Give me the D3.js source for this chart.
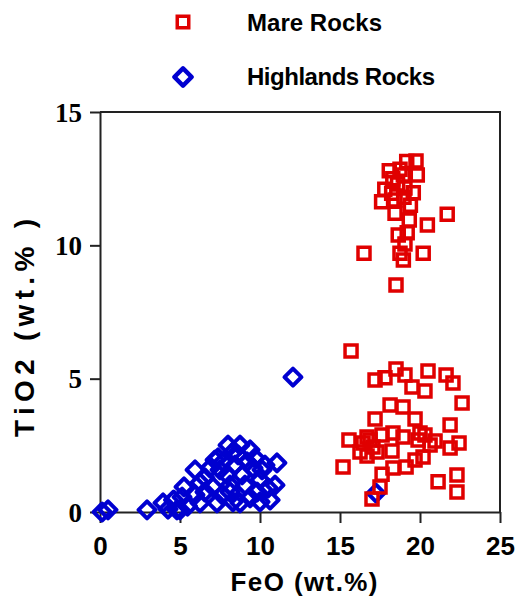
<!DOCTYPE html>
<html>
<head>
<meta charset="utf-8">
<script src="https://cdn.jsdelivr.net/npm/d3@7"></script>
<style>
  html, body { margin: 0; padding: 0; background: #fff; }
  svg { display: block; }
</style>
</head>
<body>
<svg id="chart" width="517" height="599"></svg>
<script>
// ---- Data ----
const seriesNames = ["Mare Rocks", "Highlands Rocks"];

const mareFeO = [
  19.75, 19.17, 19.83, 18.96, 18.08, 19.58, 18.23, 17.6, 18.44, 19.33,
  20.46, 21.7, 19.2, 18.64, 19.06, 20.2, 16.5, 18.75, 18.96, 18.5,
  18.6, 19.06, 18.44, 19.4, 18.75, 17.8, 18.3, 19.0,
  15.69, 17.19, 17.81, 18.5, 19.06, 19.5, 20.5, 20.31, 21.63, 22.06,
  22.63, 18.13, 18.94, 17.19, 19.69, 21.88, 15.56, 16.69, 17.63, 18.31,
  20.94, 22.44, 21.88, 18.25, 16.25, 16.69, 17.31, 20.19, 15.19, 18.31,
  19.13, 17.63, 21.13, 22.31, 22.31, 17.5, 17.0, 20.31, 20.0, 18.94,
  16.88, 16.44, 17.06, 19.69, 20.63, 19.88
];
const mareTiO2 = [
  13.16, 13.14, 12.64, 12.64, 12.8, 11.97, 11.95, 11.63, 11.2, 10.95,
  10.76, 11.17, 10.47, 10.39, 10.05, 9.7, 9.7, 9.7, 9.45, 8.51,
  12.3, 12.15, 11.7, 11.5, 12.85, 12.1, 12.5, 11.8,
  6.04, 4.95, 5.03, 5.36, 5.14, 4.69, 5.29, 4.54, 5.14, 4.84,
  4.09, 4.01, 3.94, 3.49, 3.49, 3.26, 2.70, 2.81, 2.89, 2.96,
  2.66, 2.59, 2.40, 2.29, 2.25, 2.10, 2.25, 2.06, 1.69, 1.65,
  1.69, 1.42, 1.13, 1.39, 0.75, 0.94, 0.49, 2.89, 2.96, 2.81,
  2.70, 2.59, 2.44, 1.95, 2.51, 2.70
];

const highFeO = [
  0.13, 0.5, 2.94, 3.94, 4.25, 4.81, 5.25, 5.13, 5.47, 9.38,
  8.75, 8.31, 11.06, 7.06, 8.13, 8.88, 10.0, 10.63, 8.75, 6.25,
  7.31, 6.88, 7.69, 9.56, 8.13, 9.81, 9.19, 7.94, 6.56, 8.31,
  10.0, 12.06, 10.5, 5.0, 7.5, 17.25, 7.38, 8.44, 5.94, 10.31,
  5.94, 7.19, 8.0, 8.63, 9.69, 10.13, 9.06, 7.63, 6.56, 9.38,
  10.94, 6.25, 4.6
];
const highTiO2 = [
  0.0, 0.08, 0.08, 0.34, 0.11, 0.08, 0.94, 0.56, 0.22, 2.33,
  2.51, 2.25, 1.84, 0.94, 1.01, 1.39, 1.2, 0.45, 0.34, 0.34,
  0.34, 1.65, 1.88, 1.65, 0.75, 0.75, 1.88, 1.39, 1.28, 0.38,
  0.38, 5.06, 0.9, 0.08, 1.58, 0.71, 2.03, 1.76, 0.64, 1.76,
  1.58, 1.95, 2.51, 2.14, 2.03, 1.58, 1.01, 0.64, 0.75, 0.53,
  1.01, 1.1, 0.45
];

const xTicks = [0, 5, 10, 15, 20, 25];
const yTicks = [0, 5, 10, 15];
const xTitle = "FeO (wt.%)";
const yTitle = "TiO2 (wt.% )";

// ---- Styles ----
const RED = "#e00000";
const BLUE = "#0000d0";
const AXIS = "#222";
const SANS = "'Liberation Sans', Arial, sans-serif";
const SERIF = "'Liberation Serif', 'Times New Roman', serif";

const svg = d3.select("#chart");
const margin = { left: 100, top: 112, right: 17, bottom: 87 };
const W = 517, H = 599;

const x = d3.scaleLinear().domain([0, 25]).range([margin.left, W - margin.right]);
const y = d3.scaleLinear().domain([0, 15]).range([H - margin.bottom, margin.top]);

// frame (top and right)
svg.append("path")
  .attr("d", `M${x(0)},${y(15)}H${x(25)}V${y(0)}`)
  .attr("fill", "none").attr("stroke", AXIS).attr("stroke-width", 2);

// x axis
const gx = svg.append("g")
  .attr("transform", `translate(0,${y(0)})`)
  .call(d3.axisBottom(x).tickValues(xTicks).tickSize(11).tickSizeOuter(0).tickPadding(13.5));
gx.select(".domain").attr("stroke", AXIS).attr("stroke-width", 2);
gx.selectAll(".tick line").attr("stroke", AXIS).attr("stroke-width", 2);
gx.selectAll(".tick text")
  .attr("fill", "#000")
  .style("font-family", SANS).style("font-weight", "bold").style("font-size", "26px");

// y axis
const gy = svg.append("g")
  .attr("transform", `translate(${x(0)},0)`)
  .call(d3.axisLeft(y).tickValues(yTicks).tickSize(10).tickSizeOuter(0).tickPadding(8));
gy.select(".domain").attr("stroke", AXIS).attr("stroke-width", 2);
gy.selectAll(".tick line").attr("stroke", AXIS).attr("stroke-width", 2);
gy.selectAll(".tick text")
  .attr("fill", "#000").attr("dy", "0.34em")
  .style("font-family", SERIF).style("font-weight", "bold").style("font-size", "27px");

// axis titles
svg.append("text")
  .attr("x", 304).attr("y", 591)
  .attr("text-anchor", "middle")
  .attr("textLength", 147).attr("lengthAdjust", "spacing")
  .style("font-family", SANS).style("font-weight", "bold").style("font-size", "26px")
  .text(xTitle);

svg.append("text")
  .attr("transform", "translate(34,328) rotate(-90)")
  .attr("text-anchor", "middle")
  .attr("textLength", 218).attr("lengthAdjust", "spacing")
  .style("font-family", SANS).style("font-weight", "bold").style("font-size", "28px")
  .text(yTitle);

// symbols
const squareSym = d3.symbol().type(d3.symbolSquare).size(144);
const diamondSym = d3.symbol().type(d3.symbolSquare).size(144);

const highData = highFeO.map((v, i) => [v, highTiO2[i]]);
const mareData = mareFeO.map((v, i) => [v, mareTiO2[i]]);

svg.append("g").selectAll("path")
  .data(highData).join("path")
  .attr("d", diamondSym)
  .attr("transform", d => `translate(${x(d[0])},${y(d[1])}) rotate(45)`)
  .attr("fill", "none")
  .attr("stroke", BLUE).attr("stroke-width", 4).attr("stroke-linejoin", "round");

svg.append("g").selectAll("path")
  .data(mareData).join("path")
  .attr("d", squareSym)
  .attr("transform", d => `translate(${x(d[0])},${y(d[1])})`)
  .attr("fill", "none")
  .attr("stroke", RED).attr("stroke-width", 3.5);

// legend
const legend = svg.append("g");
legend.append("path")
  .attr("d", d3.symbol().type(d3.symbolSquare).size(132)())
  .attr("transform", "translate(183,22)")
  .attr("fill", "none").attr("stroke", RED).attr("stroke-width", 3.5);
legend.append("path")
  .attr("d", d3.symbol().type(d3.symbolSquare).size(150)())
  .attr("transform", "translate(183,77) rotate(45)")
  .attr("fill", "none").attr("stroke", BLUE).attr("stroke-width", 4.5).attr("stroke-linejoin", "round");
legend.append("text")
  .attr("x", 247).attr("y", 31)
  .attr("textLength", 135).attr("lengthAdjust", "spacing")
  .style("font-family", SANS).style("font-weight", "bold").style("font-size", "24px")
  .text(seriesNames[0]);
legend.append("text")
  .attr("x", 247).attr("y", 85)
  .attr("textLength", 188).attr("lengthAdjust", "spacing")
  .style("font-family", SANS).style("font-weight", "bold").style("font-size", "24px")
  .text(seriesNames[1]);
</script>
</body>
</html>
